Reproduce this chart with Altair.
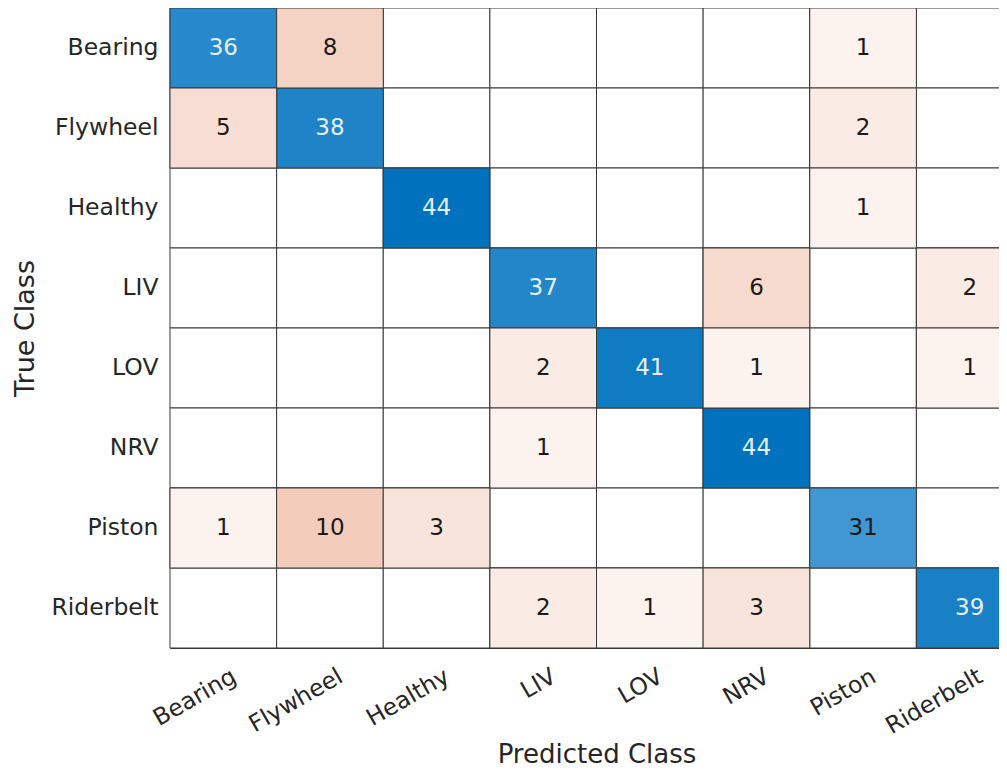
import altair as alt
import pandas as pd

classes = ["Bearing", "Flywheel", "Healthy", "LIV", "LOV", "NRV", "Piston", "Riderbelt"]
counts = [
    [36, 8, 0, 0, 0, 0, 1, 0],
    [5, 38, 0, 0, 0, 0, 2, 0],
    [0, 0, 44, 0, 0, 0, 1, 0],
    [0, 0, 0, 37, 0, 6, 0, 2],
    [0, 0, 0, 2, 41, 1, 0, 1],
    [0, 0, 0, 1, 0, 44, 0, 0],
    [1, 10, 3, 0, 0, 0, 31, 0],
    [0, 0, 0, 2, 1, 3, 0, 39],
]

rows = []
for i, t in enumerate(classes):
    for j, p in enumerate(classes):
        rows.append({"true": t, "pred": p, "v": counts[i][j], "diag": i == j})
df = pd.DataFrame(rows)

FONT = "DejaVu Sans"
TXT = "#262626"

x = alt.X("pred:N", sort=classes, title="Predicted Class",
          scale=alt.Scale(paddingInner=0, paddingOuter=0),
          axis=alt.Axis(labelAngle=330, labelAlign="right", labelBaseline="top",
                        labelPadding=16, labelOffset=5, ticks=False, domain=False,
                        labelFontSize=23.5, labelColor=TXT, labelFont=FONT,
                        titleFontSize=26, titleFontWeight="normal", titleColor=TXT,
                        titleFont=FONT, titleBaseline="alphabetic", titleY=114))
y = alt.Y("true:N", sort=classes, title="True Class",
          scale=alt.Scale(paddingInner=0, paddingOuter=0),
          axis=alt.Axis(labelPadding=12, ticks=False, domain=False,
                        labelFontSize=23.5, labelColor=TXT, labelFont=FONT,
                        titleFontSize=27, titleFontWeight="normal", titleColor=TXT,
                        titleFont=FONT, titlePadding=11))

base = alt.Chart(df)
STROKE = "#383838"

grid = base.mark_rect(fill="white", stroke=STROKE, strokeWidth=1).encode(x=x, y=y)

diag = base.transform_filter("datum.diag && datum.v > 0").mark_rect(
    stroke=STROKE, strokeWidth=1).encode(
    x=x, y=y,
    color=alt.Color("v:Q", legend=None,
                    scale=alt.Scale(domain=[31, 44], range=["#4097d3", "#0072BD"],
                                    interpolate="rgb", clamp=True)))

off = base.transform_filter("!datum.diag && datum.v > 0").mark_rect(
    stroke=STROKE, strokeWidth=1).encode(
    x=x, y=y,
    color=alt.Color("v:Q", legend=None,
                    scale=alt.Scale(domain=[1, 3, 10],
                                    range=["#fcf2ee", "#f9e4dc", "#f3ccbb"],
                                    interpolate="rgb", clamp=True)))

text = base.transform_filter("datum.v > 0").mark_text(
    font=FONT, fontSize=23).encode(
    x=x, y=y, text="v:Q",
    color=alt.condition("datum.diag && datum.v > 33", alt.value("#e6f0f8"), alt.value("#1a1a1a")))

chart = alt.layer(grid, diag, off, text).resolve_scale(color="independent").properties(
    width=853, height=640,
    autosize=alt.AutoSizeParams(type="none"),
    padding={"left": 162, "top": 0, "right": -24, "bottom": 120},
).configure_view(stroke=STROKE, strokeWidth=1)

chart.save("out.html", embed_options={"renderer": "svg", "actions": False})
